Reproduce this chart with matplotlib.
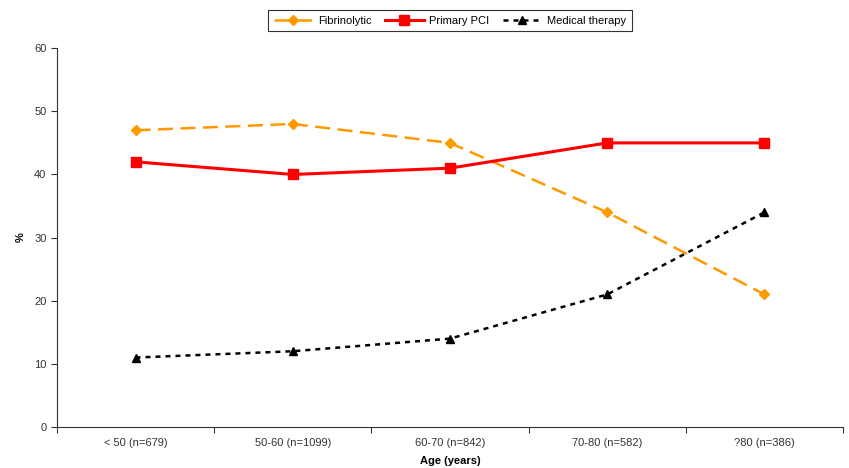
import matplotlib.pyplot as plt
import numpy as np

plt.rcParams['font.family'] = ['Liberation Sans', 'DejaVu Sans']

categorias = ['< 50 (n=679)', '50-60 (n=1099)', '60-70 (n=842)', '70-80 (n=582)', '?80 (n=386)']
fibrinolitico = [47, 48, 45, 34, 21]
pci_primaria = [42, 40, 41, 45, 45]
tratamiento_medico = [11, 12, 14, 21, 34]

x = np.arange(len(categorias))

fig = plt.figure(figsize=(8.49, 4.68), dpi=100)
ax = fig.add_axes([0.067, 0.0876, 0.926, 0.8094])

ax.plot(x, fibrinolitico, color='#FF9900', lw=1.8, dashes=(6, 3), marker='D', ms=5,
        label='Fibrinolytic')
ax.plot(x, pci_primaria, color='#FF0000', lw=2.2, marker='s', ms=7,
        label='Primary PCI')
ax.plot(x, tratamiento_medico, color='black', lw=1.8, dashes=(2, 2), marker='^', ms=6,
        label='Medical therapy')

ax.set_xlim(-0.5, len(categorias) - 0.5)
ax.set_ylim(0, 60)
ax.set_yticks(range(0, 61, 10))
ax.set_xticks(x)
ax.set_xticklabels(categorias)
ax.set_xticks(np.arange(-0.5, len(categorias)), minor=True)
ax.tick_params(axis='x', which='major', length=0, pad=8)
ax.tick_params(axis='x', which='minor', length=4, direction='out')
ax.tick_params(axis='y', length=4, direction='out')
ax.tick_params(labelsize=8, colors='#333333')
for s in ['top', 'right']:
    ax.spines[s].set_visible(False)
for s in ['left', 'bottom']:
    ax.spines[s].set_color('#333333')
    ax.spines[s].set_linewidth(0.8)

ax.set_xlabel('Age (years)', fontsize=8, fontweight='bold', labelpad=6)
ax.set_ylabel('%', fontsize=8, fontweight='bold', labelpad=6)

leg = fig.legend(loc='center', bbox_to_anchor=(0.53, 0.956), ncol=3, fontsize=8,
                 frameon=True, fancybox=False, edgecolor='black', handlelength=3.5,
                 borderpad=0.5, columnspacing=1.2, handletextpad=0.5)
leg.get_frame().set_linewidth(0.8)

fig.savefig('out.png', dpi=100)
